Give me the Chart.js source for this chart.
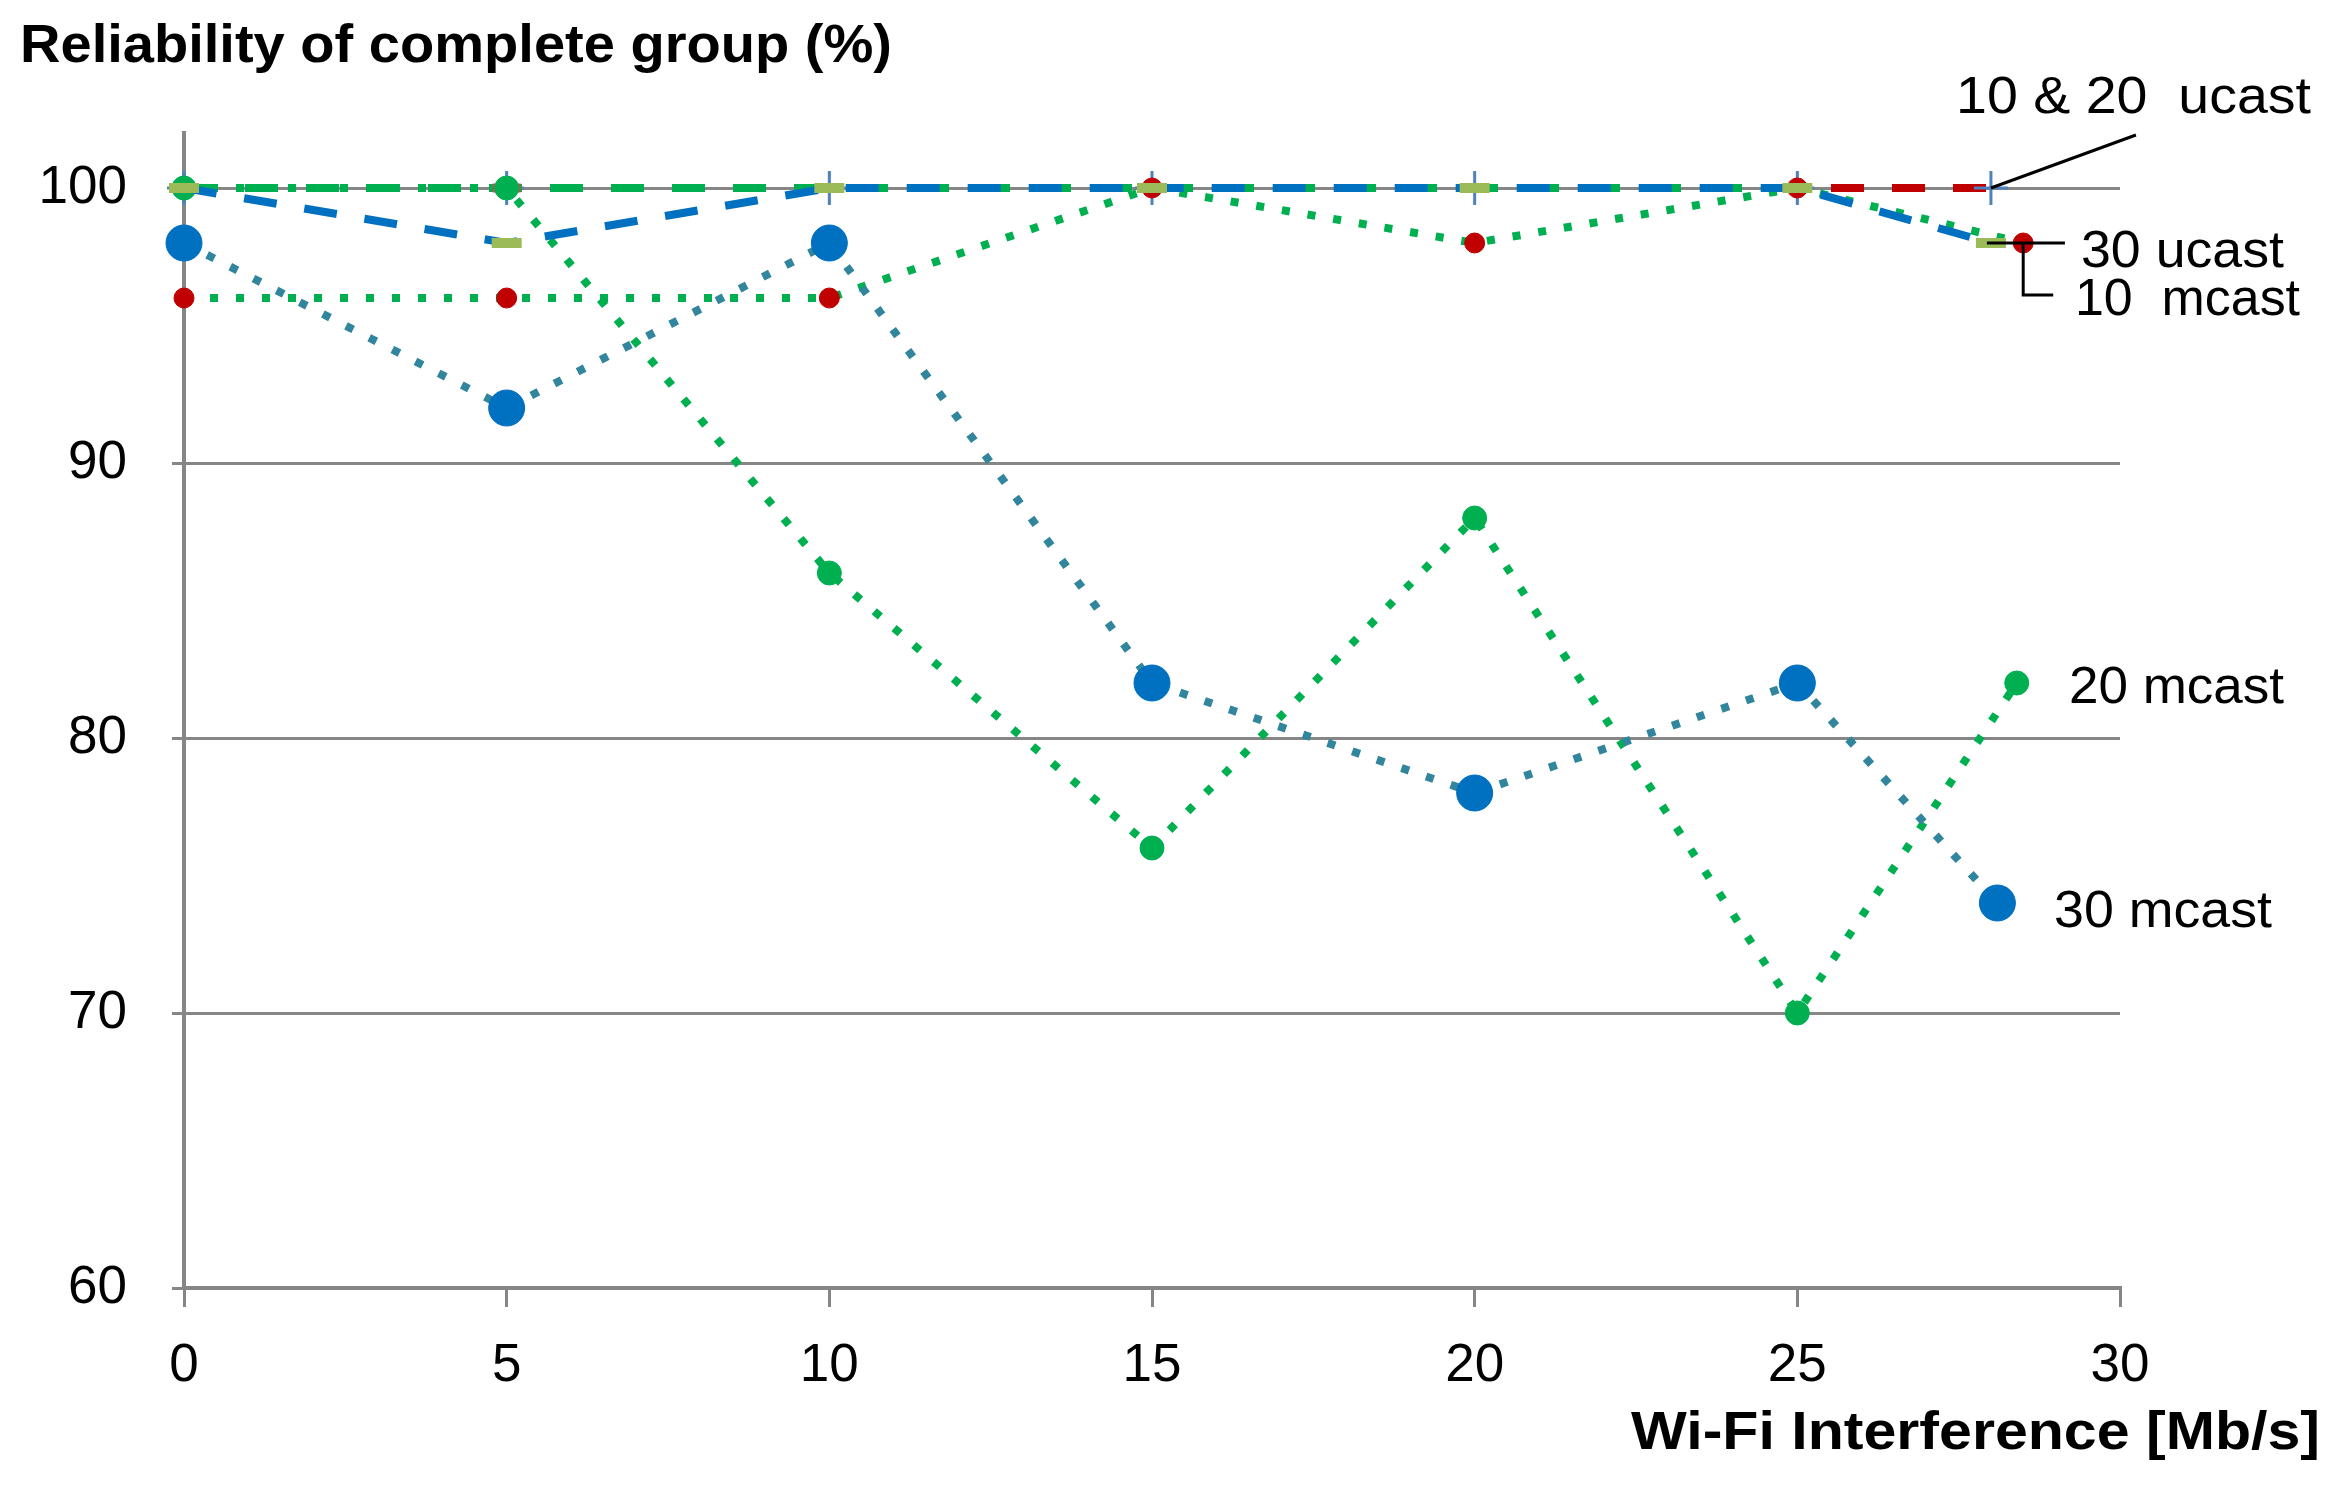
<!DOCTYPE html>
<html>
<head>
<meta charset="utf-8">
<script src="https://cdn.jsdelivr.net/npm/chart.js@4"></script>
<style>
  html, body { margin: 0; padding: 0; background: #fff; }
  canvas { display: block; }
</style>
</head>
<body>
<canvas id="reliabilityChart" width="2343" height="1495"></canvas>
<script>
// Data
const xUcast = [0, 5, 10, 15, 20, 25, 28];
const ucast10 = [100, 100, 100, 100, 100, 100, 100];
const xUcast20 = [0, 5, 10, 15, 20, 25];
const ucast20 = [100, 100, 100, 100, 100, 100];
const ucast30 = [100, 98, 100, 100, 100, 100, 98];
const xMcast10 = [0, 5, 10, 15, 20, 25, 28.5];
const mcast10 = [96, 96, 96, 100, 98, 100, 98];
const xMcast20 = [0, 5, 10, 15, 20, 25, 28.4];
const mcast20 = [100, 100, 86, 76, 88, 70, 82];
const xMcast30 = [0, 5, 10, 15, 20, 25, 28.1];
const mcast30 = [98, 92, 98, 82, 78, 82, 74];
const yTicks = [60, 70, 80, 90, 100];

const textFont = "'Liberation Sans', Arial, sans-serif";
const gridColor = '#868686';

function toPoints(xs, ys) {
    return xs.map((x, i) => ({ x: x, y: ys[i] }));
}

// Draw text squeezed/stretched to a given width (Calibri-like narrow look)
function fitText(ctx, str, left, base, width, font) {
    ctx.font = font;
    const w = ctx.measureText(str).width;
    ctx.save();
    ctx.translate(left, base);
    ctx.scale(width / w, 1);
    ctx.fillText(str, 0, 0);
    ctx.restore();
}

const labelsPlugin = {
    id: 'labelsPlugin',
    afterDraw(chart) {
        const ctx = chart.ctx;
        const xs = chart.scales.x;
        const ys = chart.scales.y;
        ctx.save();
        ctx.fillStyle = '#000';
        ctx.textBaseline = 'alphabetic';
        ctx.textAlign = 'left';

        // titles
        fitText(ctx, 'Reliability of complete group (%)', 20, 62, 872, 'bold 54px ' + textFont);
        fitText(ctx, 'Wi-Fi Interference [Mb/s]', 1631, 1449, 689, 'bold 54px ' + textFont);

        // leader lines
        ctx.strokeStyle = '#000';
        ctx.lineWidth = 3;
        const px28 = xs.getPixelForValue(28);
        const py100 = ys.getPixelForValue(100);
        const py98 = ys.getPixelForValue(98);
        const pxRed = xs.getPixelForValue(28.5);

        ctx.beginPath();
        ctx.moveTo(px28, py100);
        ctx.lineTo(px28 + 145, py100 - 53);
        ctx.stroke();

        ctx.beginPath();
        ctx.moveTo(px28 - 4, py98);
        ctx.lineTo(px28 + 74, py98);
        ctx.stroke();

        ctx.beginPath();
        ctx.moveTo(pxRed, py98);
        ctx.lineTo(pxRed, py98 + 52);
        ctx.lineTo(pxRed + 30, py98 + 52);
        ctx.stroke();

        // series labels
        const f = '52px ' + textFont;
        fitText(ctx, '10 & 20  ucast', 1956, 113, 355, f);
        fitText(ctx, '30 ucast', 2081, 267, 203, f);
        fitText(ctx, '10  mcast', 2075, 315, 225, f);
        fitText(ctx, '20 mcast', 2069, 703, 215, f);
        fitText(ctx, '30 mcast', 2054, 927, 218, f);
        ctx.restore();
    }
};

const data = {
    datasets: [{
        label: '30 mcast',
        data: toPoints(xMcast30, mcast30),
        borderColor: '#31859C',
        borderWidth: 8,
        borderDash: [8, 18],
        borderCapStyle: 'butt',
        pointStyle: 'circle',
        pointRadius: 18,
        pointBorderWidth: 1,
        pointBackgroundColor: '#0070C0',
        pointBorderColor: '#0070C0',
        order: 1
    }, {
        label: '30 ucast',
        data: toPoints(xUcast, ucast30),
        borderColor: '#0070C0',
        borderWidth: 8,
        borderDash: [33, 28],
        borderCapStyle: 'butt',
        pointStyle: 'line',
        pointRadius: 15,
        pointBorderWidth: 10,
        pointBorderColor: '#9BBB59',
        pointBackgroundColor: '#9BBB59',
        order: 2
    }, {
        label: '20 mcast',
        data: toPoints(xMcast20, mcast20),
        borderColor: '#00B050',
        borderWidth: 8,
        borderDash: [8, 18],
        borderCapStyle: 'butt',
        pointStyle: 'circle',
        pointRadius: 12,
        pointBorderWidth: 1,
        pointBackgroundColor: '#00B050',
        pointBorderColor: '#00B050',
        order: 3
    }, {
        label: '10 mcast',
        data: toPoints(xMcast10, mcast10),
        borderColor: '#00B050',
        borderWidth: 8,
        borderDash: [8, 18],
        borderCapStyle: 'butt',
        pointStyle: 'circle',
        pointRadius: 10,
        pointBorderWidth: 1,
        pointBackgroundColor: '#C00000',
        pointBorderColor: '#C00000',
        order: 4
    }, {
        label: '20 ucast',
        data: toPoints(xUcast20, ucast20),
        borderColor: '#00B050',
        borderWidth: 8,
        borderDash: [33, 28],
        borderCapStyle: 'butt',
        pointStyle: 'line',
        pointRadius: 14,
        pointBorderWidth: 9,
        pointBorderColor: '#C0504D',
        pointBackgroundColor: '#C0504D',
        order: 5
    }, {
        label: '10 ucast',
        data: toPoints(xUcast, ucast10),
        borderColor: '#C00000',
        borderWidth: 8,
        borderDash: [33, 28],
        borderCapStyle: 'butt',
        pointStyle: 'cross',
        pointRadius: 17,
        pointBorderWidth: 3,
        pointBorderColor: '#4F81BD',
        pointBackgroundColor: '#4F81BD',
        order: 6
    }]
};

const config = {
    type: 'line',
    data: data,
    plugins: [labelsPlugin],
    options: {
        responsive: false,
        animation: false,
        events: [],
        clip: false,
        datasets: {
            line: { tension: 0, fill: false, clip: false }
        },
        layout: {
            padding: { top: 133, right: 223, left: 0, bottom: 0 }
        },
        plugins: {
            legend: { display: false },
            title: { display: false },
            tooltip: { enabled: false }
        },
        scales: {
            x: {
                type: 'linear',
                min: 0,
                max: 30,
                afterFit: (scale) => { scale.height = 207; },
                grid: {
                    drawOnChartArea: false,
                    drawTicks: true,
                    tickLength: 19,
                    color: gridColor,
                    lineWidth: 3
                },
                border: { color: gridColor, width: 4 },
                ticks: {
                    stepSize: 5,
                    padding: 28,
                    color: '#000',
                    maxRotation: 0,
                    font: { family: textFont, size: 53 }
                }
            },
            y: {
                type: 'linear',
                min: 60,
                max: 102,
                afterFit: (scale) => { scale.width = 184; },
                afterBuildTicks: (scale) => {
                    scale.ticks = yTicks.map(v => ({ value: v }));
                },
                grid: {
                    drawTicks: true,
                    tickLength: 12,
                    color: gridColor,
                    lineWidth: 3
                },
                border: { color: gridColor, width: 4 },
                ticks: {
                    padding: 45,
                    color: '#000',
                    font: { family: textFont, size: 53 }
                }
            }
        }
    }
};

const reliabilityChart = new Chart(
    document.getElementById('reliabilityChart'),
    config
);
</script>
</body>
</html>
